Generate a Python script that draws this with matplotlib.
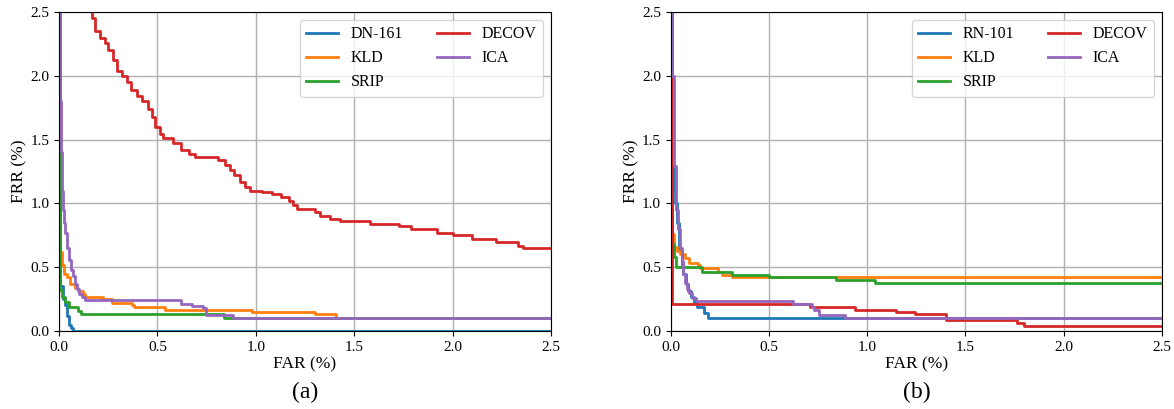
import matplotlib
matplotlib.use("Agg")
import matplotlib.pyplot as plt

plt.rcParams['font.family'] = ['Liberation Serif', 'DejaVu Serif']

COLORS = {'blue': '#1f77b4', 'orange': '#ff7f0e', 'green': '#2ca02c',
          'red': '#d62728', 'purple': '#9467bd'}

# ---- panel (a): DN-161 ----
dn161_far = [0.0, 0.003, 0.02, 0.03, 0.04, 0.05, 0.06, 0.07, 2.5]
dn161_frr = [3.0, 0.35, 0.25, 0.2, 0.12, 0.05, 0.02, 0.0, 0.0]

kld_a_far = [0.0, 0.002, 0.015, 0.025, 0.04, 0.056, 0.081, 0.098, 0.124, 0.132,
             0.224, 0.27, 0.37, 0.38, 0.54, 0.98, 1.30, 1.41, 2.5]
kld_a_frr = [3.0, 0.62, 0.52, 0.45, 0.42, 0.37, 0.34, 0.31, 0.29, 0.27,
             0.25, 0.22, 0.20, 0.185, 0.165, 0.15, 0.13, 0.10, 0.10]

srip_a_far = [0.0, 0.004, 0.015, 0.03, 0.05, 0.098, 0.11, 0.84, 2.5]
srip_a_frr = [1.5, 0.32, 0.27, 0.23, 0.19, 0.16, 0.13, 0.10, 0.10]

decov_a_far = [0.0, 0.166, 0.183, 0.208, 0.233, 0.25, 0.276, 0.293, 0.318, 0.343,
               0.368, 0.394, 0.42, 0.45, 0.47, 0.487, 0.513, 0.53, 0.58, 0.62,
               0.66, 0.69, 0.81, 0.843, 0.868, 0.89, 0.92, 0.945, 0.97, 1.03,
               1.08, 1.13, 1.167, 1.19, 1.21, 1.30, 1.326, 1.377, 1.428, 1.58,
               1.73, 1.79, 1.92, 2.0, 2.1, 2.22, 2.33, 2.36, 2.5]
decov_a_frr = [4.0, 2.45, 2.35, 2.30, 2.26, 2.20, 2.12, 2.04, 2.00, 1.95,
               1.89, 1.84, 1.80, 1.74, 1.68, 1.60, 1.54, 1.51, 1.47, 1.42,
               1.39, 1.36, 1.34, 1.30, 1.26, 1.22, 1.17, 1.13, 1.10, 1.09,
               1.07, 1.05, 1.02, 0.99, 0.96, 0.93, 0.90, 0.88, 0.86, 0.84,
               0.82, 0.80, 0.77, 0.75, 0.72, 0.70, 0.67, 0.65, 0.65]

ica_a_far = [0.0, 0.003, 0.006, 0.01, 0.015, 0.02, 0.025, 0.03, 0.04, 0.05,
             0.06, 0.07, 0.08, 0.09, 0.1, 0.115, 0.13, 0.62, 0.675, 0.73,
             0.745, 0.886, 2.5]
ica_a_frr = [3.0, 2.3, 1.8, 1.4, 1.1, 0.95, 0.85, 0.77, 0.65, 0.56,
             0.48, 0.43, 0.37, 0.33, 0.29, 0.27, 0.245, 0.21, 0.196, 0.18,
             0.125, 0.10, 0.10]

# ---- panel (b): RN-101 ----
rn101_far = [0.0, 0.003, 0.015, 0.022, 0.03, 0.044, 0.055, 0.065, 0.078, 0.09,
             0.105, 0.12, 0.135, 0.17, 0.19, 2.5]
rn101_frr = [3.0, 1.3, 1.1, 1.0, 0.85, 0.63, 0.52, 0.45, 0.37, 0.31,
             0.27, 0.22, 0.19, 0.14, 0.105, 0.105]

kld_b_far = [0.0, 0.005, 0.019, 0.03, 0.047, 0.074, 0.093, 0.14, 0.15, 0.24,
             0.26, 0.31, 2.5]
kld_b_frr = [3.0, 0.76, 0.66, 0.63, 0.60, 0.57, 0.53, 0.52, 0.49, 0.46,
             0.44, 0.42, 0.42]

srip_b_far = [0.0, 0.005, 0.015, 0.028, 0.16, 0.31, 0.50, 0.84, 1.04, 2.5]
srip_b_frr = [0.9, 0.68, 0.58, 0.50, 0.465, 0.44, 0.42, 0.40, 0.38, 0.38]

decov_b_far = [0.0, 0.005, 0.708, 0.937, 1.145, 1.242, 1.40, 1.76, 1.80, 2.5]
decov_b_frr = [3.0, 0.21, 0.19, 0.167, 0.147, 0.13, 0.085, 0.065, 0.043, 0.043]

ica_b_far = [0.0, 0.005, 0.009, 0.015, 0.019, 0.028, 0.037, 0.047, 0.056, 0.065,
             0.074, 0.085, 0.093, 0.11, 0.13, 0.62, 0.72, 0.73, 0.755, 0.885, 2.5]
ica_b_frr = [3.0, 2.5, 2.0, 1.6, 1.29, 0.95, 0.8, 0.65, 0.55, 0.45,
             0.38, 0.33, 0.30, 0.26, 0.234, 0.21, 0.185, 0.165, 0.125, 0.104, 0.104]

panels = [
    ('(a)', [('DN-161', dn161_far, dn161_frr, 'blue'),
             ('KLD', kld_a_far, kld_a_frr, 'orange'),
             ('SRIP', srip_a_far, srip_a_frr, 'green'),
             ('DECOV', decov_a_far, decov_a_frr, 'red'),
             ('ICA', ica_a_far, ica_a_frr, 'purple')]),
    ('(b)', [('RN-101', rn101_far, rn101_frr, 'blue'),
             ('KLD', kld_b_far, kld_b_frr, 'orange'),
             ('SRIP', srip_b_far, srip_b_frr, 'green'),
             ('DECOV', decov_b_far, decov_b_frr, 'red'),
             ('ICA', ica_b_far, ica_b_frr, 'purple')]),
]

fig = plt.figure(figsize=(11.74, 4.09), dpi=100)
axes_pos = [[0.0503, 0.1907, 0.419, 0.78], [0.5713, 0.1907, 0.4185, 0.78]]

for pos, (tag, series) in zip(axes_pos, panels):
    ax = fig.add_axes(pos)
    for name, far, frr, col in series:
        ax.plot(far, frr, drawstyle='steps-post', color=COLORS[col], lw=2, label=name)
    ax.set_xlim(0, 2.5)
    ax.set_ylim(0, 2.5)
    ax.set_xticks([0.0, 0.5, 1.0, 1.5, 2.0, 2.5])
    ax.set_yticks([0.0, 0.5, 1.0, 1.5, 2.0, 2.5])
    ax.grid(True, color='#b0b0b0', lw=1)
    ax.tick_params(labelsize=11)
    ax.set_xlabel('FAR (%)', fontsize=12.5, labelpad=2)
    ax.set_ylabel('FRR (%)', fontsize=12.5, labelpad=2)
    ax.legend(loc='upper right', ncol=2, fontsize=11.5, columnspacing=2.1,
              borderaxespad=0.5)
    fig.text(pos[0] + pos[2] / 2, 0.015, tag, ha='center', va='bottom', fontsize=17)

fig.savefig('out.png', dpi=100)
